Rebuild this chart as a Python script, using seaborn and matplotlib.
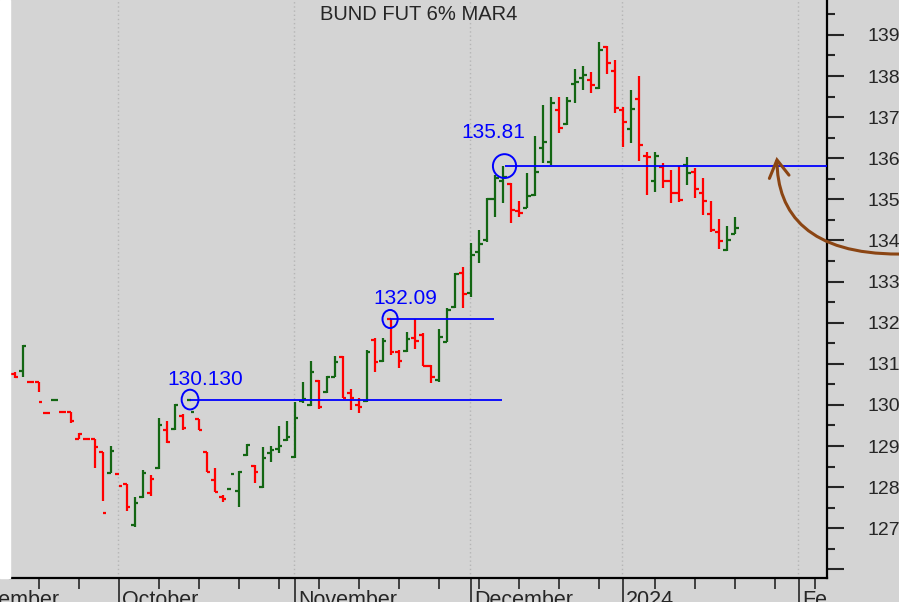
import matplotlib
matplotlib.use('Agg')
import matplotlib.pyplot as plt
from matplotlib.patches import Ellipse, PathPatch, Rectangle
from matplotlib.path import Path
from matplotlib.transforms import ScaledTranslation
import pandas as pd
import seaborn as sns

# trading-day index, 0 = 2 Oct 2023
day_idx = list(range(-13, 78))
opens = [130.75, 130.83, 130.55, 130.55, 129.80, 130.12, 129.83, 129.83, 129.18, 129.18,
         129.16, 128.86, 128.35,
         128.31, 128.08, 127.08, 127.75, 127.86, 128.46, 129.40, 129.42, 129.73, 130.13,
         129.66, 128.85, 128.17, 127.77, 127.95, 127.90, 128.78, 128.52, 128.00, 128.84,
         128.93, 129.15,
         128.73, 130.10, 130.00, 130.57, 130.31, 130.68, 131.16, 130.28, 130.00, 130.09,
         131.58, 131.08, 132.09, 131.29, 131.31, 131.62, 131.70, 130.95, 130.60, 131.54,
         132.37, 133.20,
         132.73, 133.73, 134.00, 135.00, 135.45, 135.37, 134.72, 134.80, 135.10, 136.25,
         135.90, 137.18, 136.83, 137.80, 137.95, 137.90, 137.70, 138.70, 138.13,
         137.18, 136.71, 137.44, 136.06, 135.45, 135.78, 135.45, 135.16, 135.84, 135.66,
         135.16, 134.64, 134.21, 133.77, 134.17]
highs = [130.79, 131.46, 130.55, 130.55, 129.80, 130.12, 129.83, 129.83, 129.31, 129.18,
         129.16, 128.86, 129.00,
         128.31, 128.08, 127.75, 128.42, 128.29, 129.69, 129.62, 130.03, 129.78, 130.13,
         129.66, 128.86, 128.46, 127.81, 127.95, 128.39, 129.06, 128.54, 128.98, 129.00,
         129.49, 129.61,
         130.08, 130.55, 131.08, 130.61, 130.70, 131.20, 131.18, 130.39, 130.18, 131.34,
         131.62, 131.62, 132.09, 131.34, 131.78, 132.08, 131.74, 130.97, 131.84, 132.35,
         133.20, 133.36,
         133.93, 134.26, 135.03, 135.59, 135.81, 135.41, 134.96, 135.63, 136.54, 137.30,
         137.50, 137.50, 137.50, 138.17, 138.25, 138.11, 138.84, 138.73, 138.39,
         137.24, 137.66, 137.99, 136.16, 136.16, 135.88, 135.72, 135.80, 136.02, 135.76,
         135.51, 134.97, 134.52, 134.35, 134.56]
lows = [130.66, 130.69, 130.55, 130.32, 129.80, 130.12, 129.83, 129.57, 129.17, 129.18,
        128.46, 127.67, 128.35,
        128.31, 127.43, 127.02, 127.73, 127.79, 128.43, 129.08, 129.39, 129.39, 130.13,
        129.39, 128.37, 127.89, 127.63, 127.95, 127.52, 128.76, 128.09, 127.99, 128.62,
        128.82, 129.12,
        128.70, 130.04, 129.97, 129.90, 130.28, 130.67, 130.18, 129.88, 129.80, 130.08,
        130.81, 131.05, 131.21, 130.89, 131.29, 131.35, 130.95, 130.54, 130.56, 131.53,
        132.35, 132.35,
        132.63, 133.45, 133.97, 134.58, 134.90, 134.42, 134.58, 134.78, 135.08, 135.88,
        135.84, 136.62, 136.81, 137.35, 137.66, 137.58, 137.68, 138.05, 137.10,
        136.27, 136.36, 135.94, 135.11, 135.19, 135.27, 134.90, 134.94, 135.35, 135.03,
        134.62, 134.21, 133.79, 133.75, 134.16]
closes = [130.68, 131.44, 130.55, 130.06, 129.80, 130.12, 129.83, 129.60, 129.30, 129.18,
          128.98, 127.36, 128.89,
          128.03, 127.52, 127.62, 128.35, 128.19, 129.51, 129.10, 130.00, 129.45, 129.83,
          129.39, 128.38, 127.89, 127.70, 128.31, 128.37, 129.03, 128.38, 128.70, 128.90,
          129.00, 129.22,
          129.67, 130.15, 130.81, 129.94, 130.68, 131.05, 130.18, 130.16, 129.94, 131.29,
          131.05, 131.56, 131.29, 131.07, 131.60, 131.55, 130.95, 130.67, 131.66, 132.31,
          133.18, 132.70,
          133.65, 133.92, 135.00, 135.51, 135.55, 134.74, 134.68, 135.08, 135.67, 136.40,
          137.34, 136.73, 137.39, 137.85, 138.02, 137.78, 138.64, 138.31, 137.22,
          136.89, 137.19, 136.32, 136.02, 136.06, 135.45, 135.16, 134.98, 135.65, 135.25,
          134.96, 134.26, 133.99, 134.01, 134.30]

# x-axis labels (first trading day of each month) and weekly minor ticks
month_labels = ['September', 'October', 'November', 'December', '2024', 'February']
month_idx = [-21, 0, 22, 44, 63, 85]
week_idx = [-15, -10, -5, 5, 10, 15, 20, 25, 30, 35, 40, 45, 50, 55, 60, 67, 72, 77, 82, 87]

# marked highs
level_values = [130.13, 132.09, 135.81]
level_labels = ['130.130', '132.09', '135.81']
level_start = [8.9, 33.9, 48.2]
level_end = [47.9, 46.9, 95.0]

df = pd.DataFrame({'x': day_idx, 'open': opens, 'high': highs,
                   'low': lows, 'close': closes})
up = df['close'].diff() > 0
df['color'] = ['#136613' if u else '#ff0000' for u in up]

bg = '#d4d4d4'
sns.set_style('white', {'axes.facecolor': bg, 'figure.facecolor': bg})
plt.rcParams['font.family'] = ['Liberation Sans', 'DejaVu Sans']

fig = plt.figure(figsize=(8.99, 6.02), dpi=100)
ax = fig.add_axes([10 / 899, 1 - 578 / 602, 817 / 899, 578 / 602])
fig.patches.append(Rectangle((0, 1 - 578 / 602), 10 / 899, 578 / 602,
                             transform=fig.transFigure, color='white', zorder=0))

for m in month_idx:
    ax.axvline(m - 0.1, color='#b5b5b5', ls=(0, (1, 2)), lw=1, zorder=1)

tick = 0.45
ax.vlines(df['x'], df['low'], df['high'], colors=df['color'], lw=1.6, zorder=3)
ax.hlines(df['open'], df['x'] - tick, df['x'], colors=df['color'], lw=1.6, zorder=3)
ax.hlines(df['close'], df['x'], df['x'] + tick, colors=df['color'], lw=1.6, zorder=3)

# horizontal levels, circles and labels
ell_w = [2.1, 1.9, 2.9]
ell_h = [0.48, 0.44, 0.58]
text_x = [10.75, 35.8, 46.8]
text_y = [130.38, 132.35, 136.4]
for i in range(3):
    ax.hlines(level_values[i], level_start[i], level_end[i], color='#0000ff', lw=1.3, zorder=4)
    ax.add_patch(Ellipse((level_start[i], level_values[i]), ell_w[i], ell_h[i],
                         fill=False, ec='#0000ff', lw=1.4, zorder=5))
    ax.text(text_x[i], text_y[i], level_labels[i], color='#0000ff', fontsize=15,
            ha='center', va='bottom')

# brown curved arrow
brown = '#8b4513'
verts = [(97.5, 133.67), (86.4, 133.67), (82.25, 134.62), (82.25, 135.96)]
arrow = PathPatch(Path(verts, [Path.MOVETO, Path.CURVE4, Path.CURVE4, Path.CURVE4]),
                  fill=False, ec=brown, lw=2.2, clip_on=False, zorder=6)
ax.add_patch(arrow)
ax.plot([81.3, 82.25, 83.75], [135.51, 135.96, 135.59], color=brown, lw=2.2,
        clip_on=False, zorder=6, solid_joinstyle='miter')

ax.text(0.5, 1 - 15 / 578, 'BUND FUT 6% MAR4', transform=ax.transAxes,
        ha='center', va='center', fontsize=14.5)

# axes styling
for s in ['left', 'top']:
    ax.spines[s].set_visible(False)
for s in ['right', 'bottom']:
    ax.spines[s].set_color('black')
    ax.spines[s].set_linewidth(1.6)

ax.yaxis.tick_right()
ax.set_yticks(range(126, 140))
ax.set_yticklabels([''] + [str(v) for v in range(127, 140)])
ax.set_yticks([v + 0.5 for v in range(125, 140)], minor=True)
ax.tick_params(axis='y', which='major', length=12, width=1.5, pad=17, labelsize=14,
               direction='out', right=True, left=False)
ax.tick_params(axis='y', which='minor', length=6, width=1.5, direction='out',
               right=True, left=False)

ax.set_xticks(month_idx)
ax.set_xticks(week_idx, minor=True)
ax.tick_params(axis='x', which='major', length=22, width=1.2, labelbottom=False,
               direction='out', bottom=True)
ax.tick_params(axis='x', which='minor', length=8, width=1.2, direction='out', bottom=True)

# month names drawn as text, left-aligned at the month tick, cut at the price axis
label_clip = Rectangle((0, 0), 827 / 899, 1, transform=fig.transFigure)
label_tr = ax.get_xaxis_transform() + ScaledTranslation(3 / 100, -12 / 100, fig.dpi_scale_trans)
for m, name in zip(month_idx, month_labels):
    t = ax.text(m, 0, name, transform=label_tr, ha='left', va='top', fontsize=15.5,
                clip_on=True)
    t.set_clip_path(label_clip)

# limits last, set_xticks would otherwise widen them
ax.set_xlim(-13.6, 88.5)
ax.set_ylim(125.79, 139.85)

fig.savefig('out.png', dpi=100)
